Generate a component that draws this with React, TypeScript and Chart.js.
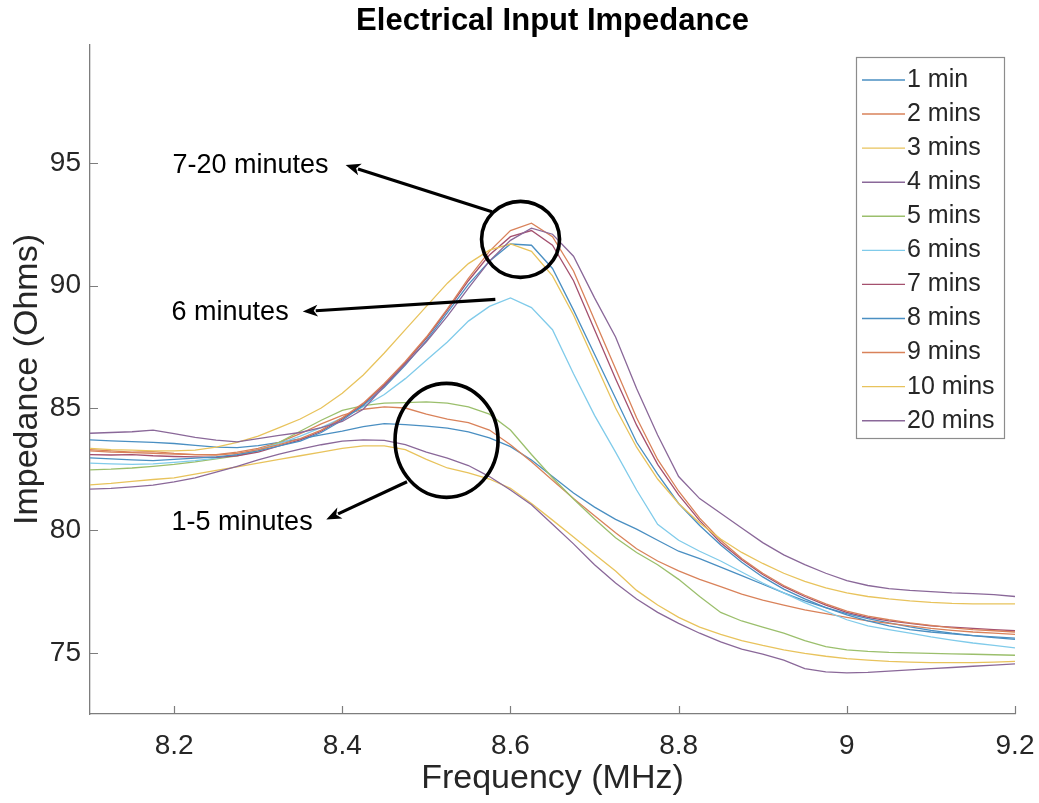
import React, { useEffect, useRef } from "react";
import { Chart, registerables } from "chart.js";

Chart.register(...registerables);

// ---------------- data ----------------
const FREQ_MHZ = [
  8.1, 8.125, 8.15, 8.175, 8.2, 8.225, 8.25, 8.275, 8.3, 8.325,
  8.35, 8.375, 8.4, 8.425, 8.45, 8.475, 8.5, 8.525, 8.55, 8.575,
  8.6, 8.625, 8.65, 8.675, 8.7, 8.725, 8.75, 8.775, 8.8, 8.825,
  8.85, 8.875, 8.9, 8.925, 8.95, 8.975, 9.0, 9.025, 9.05, 9.075,
  9.1, 9.125, 9.15, 9.175, 9.2,
];

const IMP_1_MIN = [
  83.7, 83.66, 83.63, 83.6, 83.55, 83.47, 83.4, 83.38, 83.46, 83.6,
  83.74, 83.9, 84.06, 84.24, 84.36, 84.32, 84.26, 84.18, 84.03, 83.78,
  83.42, 82.88, 82.2, 81.53, 80.95, 80.45, 80.05, 79.6, 79.15, 78.85,
  78.5, 78.15, 77.8, 77.45, 77.12, 76.85, 76.6, 76.4, 76.22, 76.06,
  75.92, 75.8, 75.7, 75.62, 75.55,
];
const IMP_2_MINS = [
  83.25, 83.2, 83.18, 83.15, 83.12, 83.1, 83.1, 83.2, 83.35, 83.6,
  83.95, 84.35, 84.7, 84.95, 85.05, 85.0, 84.75, 84.55, 84.4, 84.1,
  83.5, 82.8, 82.05, 81.3, 80.6, 79.9, 79.25, 78.75, 78.35, 78.0,
  77.7, 77.4, 77.15, 76.95, 76.75, 76.6, 76.45, 76.3, 76.2, 76.1,
  76.0, 75.92, 75.85, 75.8, 75.75,
];
const IMP_3_MINS = [
  81.86, 81.92, 82.0, 82.08, 82.15, 82.3, 82.45, 82.6, 82.75, 82.9,
  83.05, 83.2, 83.35, 83.45, 83.45, 83.3, 82.9, 82.55, 82.35, 82.1,
  81.72, 81.1, 80.42, 79.73, 79.03, 78.34, 77.55, 76.95, 76.45, 76.05,
  75.75, 75.5, 75.3, 75.12, 74.98, 74.86, 74.76, 74.7, 74.65, 74.62,
  74.6, 74.6, 74.6, 74.62, 74.65,
];
const IMP_4_MINS = [
  81.69, 81.72, 81.78, 81.85, 81.98, 82.15, 82.38, 82.62, 82.88, 83.12,
  83.32, 83.5, 83.65, 83.7, 83.68, 83.5, 83.2, 82.95, 82.65, 82.2,
  81.65, 81.05, 80.25, 79.45, 78.6, 77.85, 77.2, 76.65, 76.2, 75.8,
  75.45, 75.15, 74.95, 74.7, 74.35, 74.22, 74.18, 74.2, 74.25, 74.3,
  74.35, 74.4, 74.45, 74.5, 74.55,
];
const IMP_5_MINS = [
  82.47, 82.5, 82.55, 82.62, 82.7, 82.8, 82.92, 83.05, 83.25, 83.6,
  84.05, 84.5, 84.9, 85.1, 85.2, 85.22, 85.25, 85.2, 85.05, 84.75,
  84.1, 83.1, 82.15, 81.28, 80.47, 79.7, 79.1, 78.6, 78.0, 77.3,
  76.65, 76.3, 76.05, 75.8, 75.5, 75.25, 75.12, 75.06, 75.02, 75.0,
  74.98, 74.96, 74.94, 74.92, 74.9,
];
const IMP_6_MINS = [
  82.75, 82.72, 82.7, 82.72, 82.78, 82.85, 82.95, 83.1, 83.3, 83.55,
  83.85, 84.2, 84.6, 85.05, 85.55, 86.2, 86.95, 87.7, 88.55, 89.15,
  89.5, 89.1, 88.2, 86.4, 84.7, 83.2, 81.65, 80.25, 79.6, 79.15,
  78.75, 78.3, 77.85, 77.45, 77.05, 76.7, 76.35, 76.1, 75.95, 75.8,
  75.65, 75.52, 75.4, 75.3, 75.2,
];
const IMP_7_MINS = [
  83.1, 83.08, 83.1, 83.05, 83.02, 83.0, 82.98, 83.05, 83.2, 83.45,
  83.7, 84.05, 84.55, 85.15, 85.95, 86.85, 87.85, 89.0, 90.2, 91.25,
  92.0, 92.25, 91.65, 90.2, 88.2, 86.2, 84.3, 82.7, 81.45, 80.4,
  79.5, 78.8, 78.2, 77.7, 77.3, 76.95, 76.65, 76.45, 76.3, 76.2,
  76.1, 76.05, 76.0, 75.95, 75.9,
];
const IMP_8_MINS = [
  82.96, 82.92, 82.88, 82.85, 82.9, 82.95, 83.0, 83.1, 83.25, 83.45,
  83.65, 84.0, 84.5, 85.1, 85.85, 86.75, 87.75, 88.9, 90.05, 91.0,
  91.7, 91.65, 90.7, 89.0, 87.2, 85.4, 83.6, 82.3, 81.1, 80.2,
  79.4, 78.7, 78.1, 77.6, 77.2, 76.85, 76.55, 76.3, 76.1, 75.95,
  75.85, 75.77, 75.7, 75.65, 75.6,
];
const IMP_9_MINS = [
  83.3, 83.25, 83.2, 83.22, 83.15, 83.1, 83.08, 83.15, 83.3, 83.5,
  83.75, 84.1, 84.6, 85.2, 86.0, 86.9, 87.9, 89.05, 90.3, 91.4,
  92.25, 92.55, 92.0, 90.6, 88.6, 86.6, 84.6, 82.9, 81.6, 80.5,
  79.6, 78.85, 78.25, 77.75, 77.35, 77.0, 76.7, 76.5, 76.35, 76.22,
  76.12, 76.02, 75.95, 75.9, 75.85,
];
const IMP_10_MINS = [
  83.35, 83.3, 83.28, 83.25, 83.25, 83.28, 83.4, 83.6, 83.85, 84.2,
  84.55, 85.0, 85.6, 86.35, 87.25, 88.2, 89.15, 90.1, 90.9, 91.45,
  91.7, 91.4, 90.4, 88.8, 86.9, 85.0, 83.4, 82.1, 81.1, 80.3,
  79.65, 79.1, 78.65, 78.25, 77.92, 77.65, 77.45, 77.3, 77.2, 77.12,
  77.06, 77.02, 77.0, 77.0, 77.0,
];
const IMP_20_MINS = [
  83.97, 84.0, 84.03, 84.1, 83.95, 83.8, 83.69, 83.62, 83.75, 83.88,
  84.0, 84.2, 84.45, 84.95, 85.9, 86.8, 87.7, 88.75, 89.9, 91.0,
  91.85, 92.35, 92.1, 91.2, 89.5, 87.9, 85.8, 83.9, 82.2, 81.3,
  80.7, 80.1, 79.5, 79.0, 78.6, 78.25, 77.95, 77.75, 77.62, 77.55,
  77.5, 77.45, 77.42, 77.38, 77.3,
];

const SERIES_LABELS = [
  "1 min", "2 mins", "3 mins", "4 mins", "5 mins", "6 mins",
  "7 mins", "8 mins", "9 mins", "10 mins", "20 mins",
];
const SERIES_VALUES = [
  IMP_1_MIN, IMP_2_MINS, IMP_3_MINS, IMP_4_MINS, IMP_5_MINS, IMP_6_MINS,
  IMP_7_MINS, IMP_8_MINS, IMP_9_MINS, IMP_10_MINS, IMP_20_MINS,
];

const X_TICKS = [8.2, 8.4, 8.6, 8.8, 9, 9.2];
const Y_TICKS = [75, 80, 85, 90, 95];

const TITLE = "Electrical Input Impedance";
const X_TITLE = "Frequency (MHz)";
const Y_TITLE = "Impedance (Ohms)";

// annotations (data coordinates)
const NOTE_TEXTS = [
  { text: "7-20 minutes", x: 8.198, y: 94.89 },
  { text: "6 minutes", x: 8.197, y: 88.92 },
  { text: "1-5 minutes", x: 8.197, y: 80.34 },
];
const NOTE_ARROWS = [
  { from: [8.578, 93.02], to: [8.404, 94.93] },
  { from: [8.582, 89.44], to: [8.353, 88.94] },
  { from: [8.477, 81.99], to: [8.381, 80.45] },
];
const NOTE_RINGS = [
  { x: 8.612, y: 91.89, rx: 39, ry: 38 },
  { x: 8.524, y: 83.68, rx: 51.5, ry: 57 },
];

// ---------------- styles ----------------
const FONT = '"Liberation Sans", Arial, Helvetica, sans-serif';
const TEXT_COLOR = "#262626";
const AXIS_COLOR = "#7d7d7d";
const BLUE = "#4a8fc2";
const ORANGE = "#d9825a";
const YELLOW = "#e8c35c";
const PURPLE = "#8a6899";
const GREEN = "#9bbf6c";
const CYAN = "#80cbea";
const MAROON = "#a4506e";
const SERIES_COLORS = [
  BLUE, ORANGE, YELLOW, PURPLE, GREEN, CYAN, MAROON, BLUE, ORANGE, YELLOW, PURPLE,
];

const decorPlugin = {
  id: "decor",
  afterDraw(chart: any) {
    const { ctx, chartArea } = chart;
    const xs = chart.scales.x;
    const ys = chart.scales.y;
    const px = (v: number) => xs.getPixelForValue(v);
    const py = (v: number) => ys.getPixelForValue(v);
    ctx.save();

    // inward tick marks
    ctx.strokeStyle = AXIS_COLOR;
    ctx.lineWidth = 1.2;
    ctx.beginPath();
    xs.ticks.forEach((t: any) => {
      const x = Math.round(px(t.value)) + 0.5;
      ctx.moveTo(x, chartArea.bottom);
      ctx.lineTo(x, chartArea.bottom - 8);
    });
    ys.ticks.forEach((t: any) => {
      const y = Math.round(py(t.value)) + 0.5;
      ctx.moveTo(chartArea.left, y);
      ctx.lineTo(chartArea.left + 8, y);
    });
    ctx.stroke();

    // title
    ctx.fillStyle = "#000";
    ctx.font = `bold 31px ${FONT}`;
    ctx.textAlign = "center";
    ctx.textBaseline = "middle";
    ctx.fillText(TITLE, (chartArea.left + chartArea.right) / 2, 21);

    // rings
    ctx.strokeStyle = "#000";
    ctx.lineWidth = 3.6;
    NOTE_RINGS.forEach((r) => {
      ctx.beginPath();
      ctx.ellipse(px(r.x), py(r.y), r.rx, r.ry, 0, 0, Math.PI * 2);
      ctx.stroke();
    });

    // arrows
    NOTE_ARROWS.forEach((a) => {
      const x0 = px(a.from[0]);
      const y0 = py(a.from[1]);
      const x1 = px(a.to[0]);
      const y1 = py(a.to[1]);
      const ang = Math.atan2(y1 - y0, x1 - x0);
      const headLen = 15;
      const headHalf = 6;
      const bx = x1 - headLen * Math.cos(ang);
      const by = y1 - headLen * Math.sin(ang);
      ctx.strokeStyle = "#000";
      ctx.lineWidth = 3.2;
      ctx.beginPath();
      ctx.moveTo(x0, y0);
      ctx.lineTo(bx + 2 * Math.cos(ang), by + 2 * Math.sin(ang));
      ctx.stroke();
      ctx.fillStyle = "#000";
      ctx.beginPath();
      ctx.moveTo(x1, y1);
      ctx.lineTo(bx + headHalf * Math.sin(ang), by - headHalf * Math.cos(ang));
      ctx.lineTo(bx + 4 * Math.cos(ang), by + 4 * Math.sin(ang));
      ctx.lineTo(bx - headHalf * Math.sin(ang), by + headHalf * Math.cos(ang));
      ctx.closePath();
      ctx.fill();
    });

    // note texts
    ctx.fillStyle = "#000";
    ctx.font = `27px ${FONT}`;
    ctx.textAlign = "left";
    ctx.textBaseline = "middle";
    NOTE_TEXTS.forEach((t) => ctx.fillText(t.text, px(t.x), py(t.y)));

    // legend box
    const boxRight = chartArea.right - 11;
    const boxLeft = boxRight - 148;
    const boxTop = chartArea.top + 12;
    const boxBottom = boxTop + 381;
    ctx.fillStyle = "#fff";
    ctx.fillRect(boxLeft, boxTop, boxRight - boxLeft, boxBottom - boxTop);
    ctx.strokeStyle = "#8c8c8c";
    ctx.lineWidth = 1.2;
    ctx.strokeRect(boxLeft + 0.5, boxTop + 0.5, boxRight - boxLeft, boxBottom - boxTop);
    ctx.font = `25px ${FONT}`;
    ctx.textAlign = "left";
    ctx.textBaseline = "middle";
    chart.data.datasets.forEach((ds: any, i: number) => {
      const y = boxTop + 23 + i * 34.07;
      ctx.strokeStyle = ds.borderColor;
      ctx.lineWidth = 1.4;
      ctx.beginPath();
      ctx.moveTo(boxLeft + 6, y);
      ctx.lineTo(boxLeft + 49, y);
      ctx.stroke();
      ctx.fillStyle = TEXT_COLOR;
      ctx.fillText(ds.label, boxLeft + 51, y);
    });

    ctx.restore();
  },
};

export default function App() {
  const canvasRef = useRef<HTMLCanvasElement | null>(null);

  useEffect(() => {
    document.body.style.margin = "0";
    const canvas = canvasRef.current;
    if (!canvas) return;
    const datasets = SERIES_VALUES.map((vals, i) => ({
      label: SERIES_LABELS[i],
      data: vals.map((v, j) => ({ x: FREQ_MHZ[j], y: v })),
      borderColor: SERIES_COLORS[i],
      backgroundColor: SERIES_COLORS[i],
      borderWidth: 1.3,
      pointRadius: 0,
      tension: 0,
      fill: false,
      order: SERIES_VALUES.length - i,
    }));

    const chart = new Chart(canvas, {
      type: "line",
      data: { datasets },
      plugins: [decorPlugin],
      options: {
        responsive: false,
        animation: false,
        devicePixelRatio: 1,
        layout: { padding: { top: 45, right: 24, left: 0, bottom: 0 } },
        plugins: {
          legend: { display: false },
          title: { display: false },
          tooltip: { enabled: false },
        },
        scales: {
          x: {
            type: "linear",
            min: 8.1,
            max: 9.2,
            afterBuildTicks: (s: any) => {
              s.ticks = X_TICKS.map((v) => ({ value: v }));
            },
            afterFit: (s: any) => {
              s.height = 89;
              s.paddingLeft = 0;
              s.paddingRight = 0;
            },
            grid: { display: false, drawTicks: false },
            border: { display: true, color: AXIS_COLOR, width: 1.3 },
            ticks: {
              padding: 15,
              color: TEXT_COLOR,
              font: { family: FONT, size: 28 },
              maxRotation: 0,
              autoSkip: false,
              callback: (v: any) => String(Math.round(Number(v) * 10) / 10),
            },
            title: {
              display: true,
              text: X_TITLE,
              color: TEXT_COLOR,
              font: { family: FONT, size: 34 },
              padding: { top: 0, bottom: 4 },
            },
          },
          y: {
            type: "linear",
            min: 72.5,
            max: 99.83,
            afterBuildTicks: (s: any) => {
              s.ticks = Y_TICKS.map((v) => ({ value: v }));
            },
            afterFit: (s: any) => {
              s.width = 90;
              s.paddingTop = 0;
              s.paddingBottom = 0;
            },
            grid: { display: false, drawTicks: false },
            border: { display: true, color: AXIS_COLOR, width: 1.3 },
            ticks: {
              padding: 9,
              color: TEXT_COLOR,
              font: { family: FONT, size: 28 },
              autoSkip: false,
              callback: (v: any) => String(v),
            },
            title: {
              display: true,
              text: Y_TITLE,
              color: TEXT_COLOR,
              font: { family: FONT, size: 34 },
              padding: { top: 7, bottom: 0 },
            },
          },
        },
      },
    } as any);

    return () => chart.destroy();
  }, []);

  return (
    <div style={{ width: 1039, height: 803 }}>
      <canvas ref={canvasRef} width={1039} height={803} style={{ display: "block" }} />
    </div>
  );
}
